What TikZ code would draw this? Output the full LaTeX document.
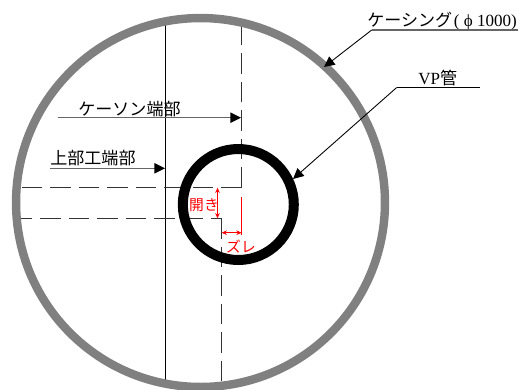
\documentclass[tikz,border=0pt]{standalone}
\usepackage{fontspec}
\setmainfont{Liberation Serif}
\newfontfamily\jpfont{Noto Sans CJK JP}
\usetikzlibrary{arrows.meta}
\definecolor{ringgray}{RGB}{128,128,128}
\tikzset{
    dimline/.style={line width=0.5pt, black},
    cutline/.style={line width=0.6pt, black!80, dash pattern=on 11.6pt off 4.6pt},
    leader/.style={line width=0.5pt, black, -{Triangle[length=6pt, width=5.8pt, color=black, fill=black]}},
    grayleader/.style={leader, line width=0.65pt, draw=black!60},
    redline/.style={line width=0.5pt, red, {Stealth[length=3pt, width=2.6pt]}-{Stealth[length=3pt, width=2.6pt]}},
    blacklabel/.style={font=\fontsize{9.7pt}{10pt}\selectfont\jpfont, inner sep=0pt},
    redlabel/.style={font=\fontsize{8.4pt}{9pt}\selectfont\jpfont, text=red, inner sep=0pt},
}

\begin{document}
\begin{tikzpicture}[x=0.02cm, y=-0.02cm]
    \useasboundingbox (0, 0) rectangle (520, 389);
    % pipe centres
    \coordinate (casing) at (200.5, 202.5);
    \coordinate (pipe) at (238.3, 204.5);

    % ends of the parts
    \coordinate (upperTop) at (165.6, 22);
    \coordinate (upperBottom) at (165.6, 385);
    \coordinate (caissonTop) at (241.6, 27);
    \coordinate (caissonCorner) at (241.6, 187.7);
    \coordinate (caissonLeft) at (20, 187.7);
    \coordinate (deckLeft) at (20, 218.3);
    \coordinate (deckCorner) at (221.6, 218.3);
    \coordinate (deckBottom) at (221.6, 385);
    \draw[dimline] (upperTop) -- (upperBottom);
    \draw[cutline] (caissonCorner) -- (caissonLeft);
    \draw[cutline] (caissonCorner) -- (caissonTop);
    \draw[cutline, dash phase=5.7pt] (deckCorner) -- (deckLeft);
    \draw[cutline] (deckCorner) -- (deckBottom);

    % pipes
    \draw[ringgray, line width=4.8pt] (casing) circle[radius=3.69cm];
    \draw[black, line width=5.7pt] (pipe) circle[radius=1.11cm];

    % labels with leaders
    \node[blacklabel, anchor=base west] (casingLabel) at (367, 26) {ケーシング\textrm{\hspace{1pt}( ϕ 1000)}};
    \coordinate (casingLineL) at (371.7, 30);
    \coordinate (casingLineR) at (518, 30);
    \coordinate (casingTip) at (324, 67);
    \draw[dimline, line width=0.7pt, black!60] (casingLineR) -- (casingLineL);
    \draw[leader] (casingLineL) -- (casingTip);

    \node[blacklabel, anchor=base west] (vpLabel) at (418, 84) {\textrm{VP}管};
    \coordinate (vpLineL) at (396.7, 87.5);
    \coordinate (vpLineR) at (480, 87.5);
    \coordinate (vpTip) at (293, 179);
    \draw[dimline] (vpLineR) -- (vpLineL);
    \draw[leader] (vpLineL) -- (vpTip);

    \node[blacklabel, anchor=base west] (caissonLabel) at (78, 115) {ケーソン端部};
    \coordinate (caissonStart) at (57.5, 117.7);
    \coordinate (caissonTip) at (241, 117.7);
    \draw[grayleader] (caissonStart) -- (caissonTip);

    \node[blacklabel, anchor=base west] (deckLabel) at (50, 164) {上部工端部};
    \coordinate (deckStart) at (49.5, 168.3);
    \coordinate (deckTip) at (165, 168.3);
    \draw[grayleader] (deckStart) -- (deckTip);

    % red dimensions
    \coordinate (gapTop) at (217.5, 187.7);
    \coordinate (gapBottom) at (217.5, 218.3);
    \coordinate (shiftLeft) at (221.6, 232.7);
    \coordinate (shiftRight) at (241.6, 232.7);
    \coordinate (shiftTop) at (241.6, 197);
    \coordinate (shiftBottom) at (241.6, 235);
    \draw[red, line width=0.5pt] (shiftTop) -- (shiftBottom);
    \draw[redline] (gapTop) -- (gapBottom);
    \draw[redline] (shiftLeft) -- (shiftRight);
    \node[redlabel] (gapLabel) at (204, 205) {開き};
    \node[redlabel] (shiftLabel) at (241, 247) {ズレ};
\end{tikzpicture}
\end{document}
